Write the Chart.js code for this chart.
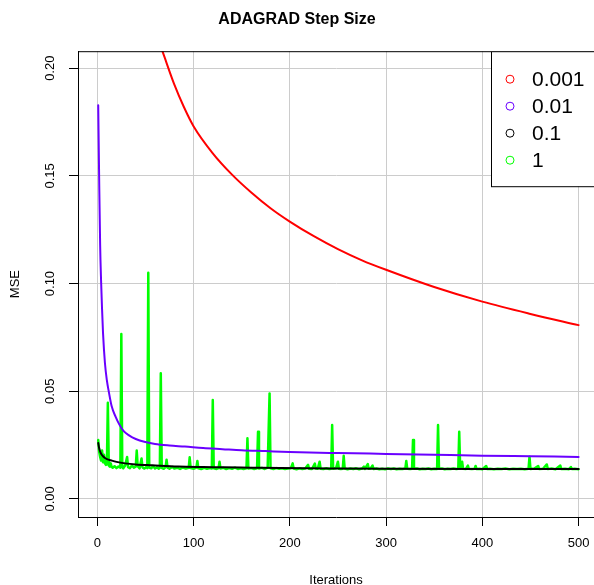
<!DOCTYPE html>
<html>
<head>
<meta charset="utf-8">
<script src="https://cdn.jsdelivr.net/npm/chart.js"></script>
<style>
  body { margin: 0; background: #fff; overflow: hidden; }
  #wrap { width: 594px; height: 585px; }
</style>
</head>
<body>
<div id="wrap"><canvas id="mse"></canvas></div>
<script>
// values
var xTicks = [0, 100, 200, 300, 400, 500];
var yTicks = [0, 0.05, 0.10, 0.15, 0.20];
var stepSizes = ['0.001', '0.01', '0.1', '1'];
var colors = ['#ff0000', '#6a00ff', '#000000', '#00ff00'];

var redIter = [40, 50, 60, 70, 80, 90, 100, 120, 140, 160, 180, 200, 225, 250, 275, 300, 350, 400, 450, 500];
var redMse = [0.252, 0.233, 0.218, 0.205, 0.1925, 0.182, 0.1731, 0.1605, 0.1506, 0.1423, 0.135, 0.1288, 0.122, 0.116, 0.1108, 0.1064, 0.0984, 0.0916, 0.0859, 0.0807];

var blueIter = [1, 2, 3, 4, 5, 6, 8, 10, 12, 15, 19, 23, 27, 33, 40, 50, 60, 75, 91, 110, 130, 150, 175, 200, 250, 300, 350, 400, 450, 500];
var blueMse = [0.1828, 0.148, 0.118, 0.101, 0.088, 0.077, 0.063, 0.055, 0.0498, 0.043, 0.0382, 0.0345, 0.0317, 0.0295, 0.0278, 0.0264, 0.0255, 0.0248, 0.0243, 0.0236, 0.0231, 0.0226, 0.0222, 0.0218, 0.0213, 0.0209, 0.0205, 0.0201, 0.0198, 0.0195];

var blackIter = [1, 2, 3, 4, 6, 8, 10, 15, 20, 29, 40, 57, 84, 110, 131, 160, 190, 250, 300, 400, 500];
var blackMse = [0.026, 0.0235, 0.022, 0.021, 0.0198, 0.019, 0.0185, 0.0178, 0.0172, 0.0165, 0.016, 0.0156, 0.015, 0.0148, 0.0147, 0.0145, 0.0143, 0.0141, 0.014, 0.0139, 0.0139];

var greenIter = [1, 2, 3, 4, 5, 6, 7, 8, 9, 10, 11, 12, 13, 14, 15, 16, 18, 20, 22, 24, 25, 26, 27, 29, 31, 32, 34, 36, 38, 40,
  41, 42, 44, 46, 47, 49, 51, 52, 53, 54, 56, 58, 60, 62, 64, 65, 66, 67, 69, 71, 72, 73, 75, 78, 80, 83, 86, 89, 92, 95,
  96, 97, 100, 103, 104, 105, 108, 111, 114, 117, 119, 120, 121, 124, 126, 127, 128, 131, 134, 137, 140, 143, 146, 149, 152, 155, 156, 157, 160, 163,
  166, 167, 168, 171, 174, 177, 179, 180, 183, 186, 189, 192, 195, 198, 201, 203, 204, 207, 210, 213, 216, 219, 220, 223, 226, 227, 229, 231, 232, 235,
  238, 241, 243, 244, 245, 248, 250, 251, 253, 255, 256, 257, 260, 263, 266, 269, 272, 275, 277, 278, 281, 282, 284, 286, 287, 290, 293, 296, 299, 302,
  305, 308, 311, 314, 317, 320, 321, 322, 325, 327, 328, 329, 332, 335, 338, 341, 344, 347, 350, 353, 354, 355, 358, 361, 364, 367, 370, 373, 375, 376,
  377, 379, 380, 383, 385, 386, 389, 392, 393, 394, 397, 400, 404, 405, 408, 412, 416, 420, 424, 428, 432, 436, 440, 444, 448, 449, 450, 454, 458, 459,
  463, 467, 468, 472, 476, 481, 482, 486, 490, 492, 493, 496, 500];
var greenMse = [0.0274, 0.022, 0.0195, 0.0178, 0.0225, 0.017, 0.0205, 0.0165, 0.0158, 0.016, 0.0447, 0.0155, 0.015, 0.0165, 0.0148, 0.0145, 0.0152, 0.0143, 0.015, 0.0145, 0.0766, 0.0148, 0.0142, 0.0155, 0.0195, 0.0148, 0.0143, 0.0155, 0.0145, 0.015,
  0.0225, 0.0152, 0.0142, 0.0188, 0.0146, 0.0141, 0.0148, 0.0143, 0.105, 0.0145, 0.0142, 0.0152, 0.0141, 0.0147, 0.014, 0.0145, 0.0583, 0.0144, 0.014, 0.0148, 0.0182, 0.0145, 0.014, 0.0148, 0.0141, 0.0145, 0.0139, 0.0146, 0.0141, 0.0144,
  0.0193, 0.0143, 0.014, 0.0145, 0.0176, 0.0142, 0.0139, 0.0144, 0.014, 0.0143, 0.0141, 0.0459, 0.0142, 0.0139, 0.0143, 0.0173, 0.0141, 0.0144, 0.0139, 0.0143, 0.014, 0.0145, 0.0139, 0.0142, 0.0139, 0.0142, 0.0282, 0.0141, 0.0143, 0.0139,
  0.0142, 0.0312, 0.0141, 0.0144, 0.0139, 0.0145, 0.049, 0.0142, 0.0139, 0.0143, 0.014, 0.0142, 0.0139, 0.0141, 0.0142, 0.0165, 0.0141, 0.0138, 0.0142, 0.0139, 0.0141, 0.0158, 0.014, 0.0139, 0.0164, 0.0141, 0.014, 0.0173, 0.014, 0.0139,
  0.0142, 0.0139, 0.014, 0.0343, 0.014, 0.0142, 0.0173, 0.014, 0.0139, 0.014, 0.02, 0.0141, 0.0138, 0.0141, 0.0139, 0.0142, 0.0138, 0.0141, 0.015, 0.0139, 0.0162, 0.014, 0.0141, 0.0155, 0.0139, 0.0141, 0.0138, 0.014, 0.0138, 0.0141,
  0.0139, 0.0141, 0.0138, 0.014, 0.0139, 0.0141, 0.0176, 0.014, 0.0139, 0.014, 0.0274, 0.014, 0.0141, 0.0138, 0.014, 0.0139, 0.0141, 0.0138, 0.014, 0.0139, 0.0343, 0.014, 0.0141, 0.0138, 0.014, 0.0139, 0.0141, 0.0139, 0.014, 0.0312,
  0.0142, 0.0173, 0.014, 0.0139, 0.0155, 0.014, 0.0139, 0.014, 0.0153, 0.0139, 0.014, 0.0138, 0.0153, 0.0139, 0.014, 0.0138, 0.014, 0.0139, 0.0141, 0.0138, 0.014, 0.0139, 0.014, 0.0138, 0.014, 0.0196, 0.0139, 0.0141, 0.0153, 0.0139,
  0.014, 0.016, 0.0139, 0.0141, 0.0138, 0.0155, 0.0139, 0.014, 0.0138, 0.0148, 0.0139, 0.014, 0.0138];

var font = "'Liberation Sans', Arial, Helvetica, sans-serif";
Chart.defaults.font.family = font;
Chart.defaults.color = '#000';

function pts(xs, ys) {
  return xs.map(function (x, i) { return { x: x, y: ys[i] }; });
}

function series(i, xs, ys, w, smooth) {
  return {
    label: stepSizes[i],
    data: pts(xs, ys),
    borderColor: colors[i],
    backgroundColor: colors[i],
    borderWidth: w,
    cubicInterpolationMode: smooth ? 'monotone' : 'default',
    clip: 0
  };
}

// frame top, rotated y labels and the R style legend box
var rPlot = {
  id: 'rPlot',
  afterDraw: function (chart) {
    var ctx = chart.ctx, a = chart.chartArea, ys = chart.scales.y;
    ctx.save();
    ctx.strokeStyle = '#000';
    ctx.lineWidth = 1;
    ctx.beginPath();
    ctx.moveTo(a.left, a.top + 0.5);
    ctx.lineTo(chart.width, a.top + 0.5);
    ctx.stroke();

    ctx.fillStyle = '#000';
    ctx.font = '13px ' + font;
    ctx.textAlign = 'center';
    ctx.textBaseline = 'middle';
    yTicks.forEach(function (v) {
      ctx.save();
      ctx.translate(50, ys.getPixelForValue(v));
      ctx.rotate(-Math.PI / 2);
      ctx.fillText(v.toFixed(2), 0, 0);
      ctx.restore();
    });

    var bx = 491, by = a.top;
    ctx.fillStyle = '#fff';
    ctx.fillRect(bx, by, 200, 135);
    ctx.strokeStyle = '#000';
    ctx.strokeRect(bx + 0.5, by + 0.5, 200, 135);
    ctx.font = '21px ' + font;
    ctx.textAlign = 'left';
    chart.data.datasets.forEach(function (d, i) {
      var ry = by + 28 + i * 27;
      ctx.strokeStyle = d.borderColor;
      ctx.beginPath();
      ctx.arc(510, ry, 4, 0, Math.PI * 2);
      ctx.stroke();
      ctx.fillStyle = '#000';
      ctx.fillText(d.label, 532, ry + 1);
    });
    ctx.restore();
  }
};

var adagrad = new Chart(document.getElementById('mse'), {
  type: 'line',
  data: {
    datasets: [
      series(0, redIter, redMse, 2, true),
      series(1, blueIter, blueMse, 2, true),
      series(2, blackIter, blackMse, 2, true),
      series(3, greenIter, greenMse, 2.5, false)
    ]
  },
  options: {
    responsive: true,
    maintainAspectRatio: false,
    animation: false,
    events: [],
    elements: {
      point: { radius: 0 },
      line: { tension: 0, fill: false, borderJoinStyle: 'round', borderCapStyle: 'round' }
    },
    plugins: {
      legend: { display: false },
      tooltip: { enabled: false },
      title: {
        display: true,
        text: 'ADAGRAD Step Size',
        font: { size: 16, weight: 'bold' },
        padding: { top: 10, bottom: 22 }
      }
    },
    scales: {
      x: {
        type: 'linear',
        min: -20,
        max: 516,
        afterBuildTicks: function (s) { s.ticks = xTicks.map(function (v) { return { value: v }; }); },
        afterFit: function (s) { s.height = 68; s.paddingLeft = 0; s.paddingRight = 0; },
        grid: { color: '#cccccc', tickColor: '#000', tickLength: 9 },
        border: { color: '#000' },
        ticks: { font: { size: 13 }, padding: 10, maxRotation: 0 },
        title: { display: true, text: 'Iterations', font: { size: 13 }, padding: { top: 0, bottom: -3 } }
      },
      y: {
        type: 'linear',
        min: -0.0084,
        max: 0.2079,
        afterBuildTicks: function (s) { s.ticks = yTicks.map(function (v) { return { value: v }; }); },
        afterFit: function (s) { s.width = 78; s.paddingTop = 0; s.paddingBottom = 0; },
        grid: { color: '#cccccc', tickColor: '#000', tickLength: 9 },
        border: { color: '#000' },
        ticks: { display: false },
        title: { display: true, text: 'MSE', font: { size: 13 }, padding: { top: 8 } }
      }
    }
  },
  plugins: [rPlot]
});
</script>
</body>
</html>
